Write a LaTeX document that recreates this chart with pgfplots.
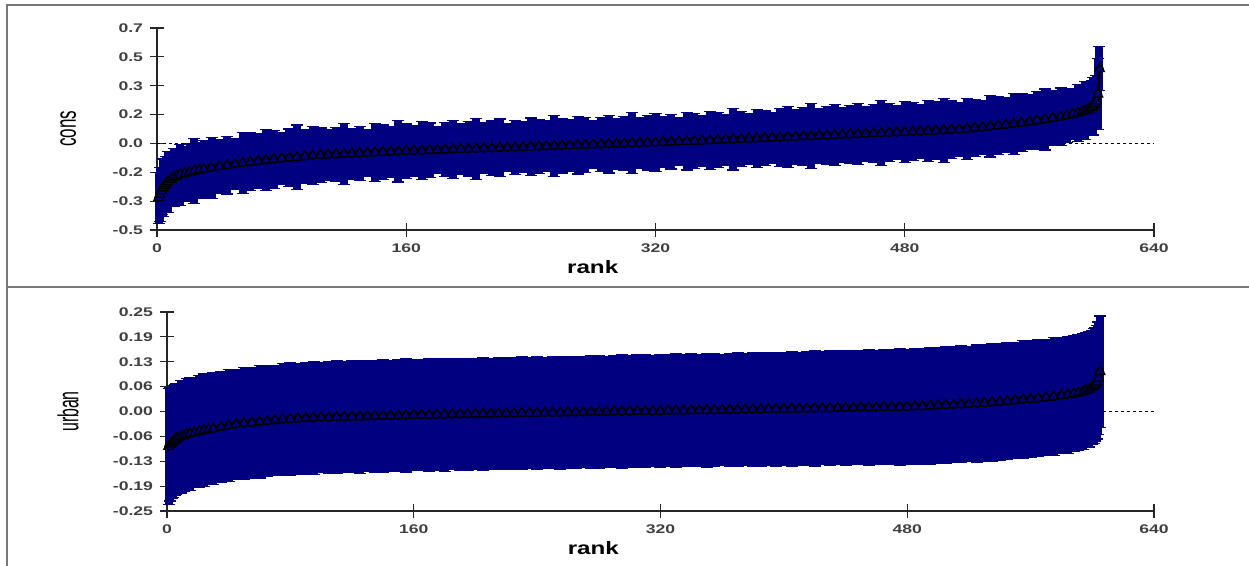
\documentclass[border=0pt]{standalone}
\usepackage{graphicx}
\usepackage{pgfplots}
\usepackage{pgfplotstable}
\pgfplotsset{compat=1.18}
\usepackage{fontspec}
\setmainfont{Liberation Sans}
\definecolor{navy}{RGB}{0,0,128}
\definecolor{framegray}{RGB}{120,120,120}
\newcommand\tl[1]{\scalebox{1.4}[1]{#1}}

\pgfplotstableread[row sep=\\]{
x y e\\
1 -0.320 0.15\\ 2 -0.300 0.16\\ 3 -0.280 0.14\\ 4 -0.262 0.17\\ 5 -0.247 0.15\\ 6 -0.236 0.16\\ 7 -0.226 0.18\\ 9 -0.212 0.16\\
11 -0.201 0.17\\ 13 -0.192 0.15\\ 15 -0.185 0.18\\ 18 -0.177 0.16\\ 21 -0.169 0.17\\ 24 -0.162 0.19\\ 27 -0.156 0.16\\ 30 -0.151 0.17\\
35 -0.143 0.18\\ 40 -0.135 0.16\\ 45 -0.128 0.17\\ 50 -0.121 0.15\\ 55 -0.115 0.18\\ 60 -0.109 0.17\\ 65 -0.104 0.16\\ 70 -0.099 0.18\\
75 -0.094 0.17\\ 80 -0.089 0.15\\ 85 -0.085 0.17\\ 90 -0.081 0.19\\ 95 -0.076 0.16\\ 100 -0.071 0.17\\ 105 -0.069 0.16\\ 110 -0.067 0.15\\
115 -0.065 0.16\\ 120 -0.062 0.18\\ 125 -0.060 0.15\\ 130 -0.058 0.16\\ 135 -0.056 0.14\\ 140 -0.053 0.17\\ 145 -0.051 0.16\\ 150 -0.049 0.15\\
155 -0.047 0.18\\ 160 -0.045 0.16\\ 165 -0.043 0.15\\ 170 -0.042 0.17\\ 175 -0.040 0.16\\ 180 -0.039 0.14\\ 185 -0.037 0.16\\ 190 -0.035 0.17\\
195 -0.034 0.15\\ 200 -0.032 0.16\\ 205 -0.031 0.18\\ 210 -0.029 0.15\\ 215 -0.028 0.16\\ 220 -0.026 0.17\\ 225 -0.025 0.14\\ 230 -0.023 0.16\\
235 -0.022 0.15\\ 240 -0.020 0.17\\ 245 -0.018 0.16\\ 250 -0.017 0.15\\ 255 -0.015 0.18\\ 260 -0.014 0.16\\ 265 -0.012 0.15\\ 270 -0.010 0.17\\
275 -0.009 0.16\\ 280 -0.007 0.14\\ 285 -0.006 0.16\\ 290 -0.004 0.17\\ 295 -0.002 0.15\\ 300 -0.001 0.16\\ 305 0.001 0.18\\ 310 0.002 0.15\\
315 0.004 0.16\\ 320 0.005 0.17\\ 325 0.007 0.15\\ 330 0.009 0.16\\ 335 0.011 0.14\\ 340 0.013 0.17\\ 345 0.014 0.16\\ 350 0.016 0.15\\
355 0.018 0.17\\ 360 0.020 0.16\\ 365 0.022 0.15\\ 370 0.024 0.18\\ 375 0.026 0.16\\ 380 0.028 0.15\\ 385 0.030 0.17\\ 390 0.031 0.16\\
395 0.033 0.15\\ 400 0.035 0.17\\ 405 0.037 0.18\\ 410 0.039 0.16\\ 415 0.041 0.17\\ 420 0.043 0.19\\ 425 0.045 0.16\\ 430 0.047 0.17\\
435 0.049 0.18\\ 440 0.051 0.16\\ 445 0.053 0.17\\ 450 0.055 0.18\\ 455 0.057 0.16\\ 460 0.059 0.17\\ 465 0.061 0.19\\ 470 0.063 0.17\\
475 0.065 0.16\\ 480 0.067 0.18\\ 485 0.069 0.17\\ 490 0.071 0.16\\ 495 0.073 0.18\\ 500 0.075 0.17\\ 505 0.077 0.19\\ 510 0.080 0.17\\
515 0.083 0.16\\ 520 0.087 0.18\\ 525 0.091 0.17\\ 530 0.095 0.16\\ 535 0.100 0.18\\ 540 0.105 0.17\\ 545 0.110 0.16\\ 550 0.116 0.18\\
555 0.121 0.17\\ 560 0.127 0.16\\ 565 0.134 0.17\\ 570 0.141 0.18\\ 575 0.149 0.16\\ 580 0.157 0.17\\ 584 0.164 0.16\\ 588 0.172 0.15\\
591 0.179 0.17\\ 594 0.187 0.16\\ 596 0.194 0.17\\ 598 0.202 0.15\\ 600 0.212 0.16\\ 601 0.220 0.17\\ 602 0.232 0.15\\ 603 0.250 0.15\\
604 0.290 0.21\\ 605 0.440 0.13\\
}\constab

\pgfplotstableread[row sep=\\]{
x y e\\
1 -0.088 0.145\\ 2 -0.083 0.142\\ 3 -0.079 0.140\\ 4 -0.075 0.141\\ 5 -0.072 0.139\\ 6 -0.069 0.140\\ 7 -0.067 0.138\\ 9 -0.064 0.141\\
11 -0.061 0.139\\ 13 -0.058 0.140\\ 15 -0.056 0.142\\ 18 -0.053 0.138\\ 21 -0.050 0.140\\ 24 -0.047 0.141\\ 27 -0.045 0.139\\ 30 -0.043 0.140\\
35 -0.039 0.139\\ 40 -0.035 0.141\\ 45 -0.032 0.138\\ 50 -0.030 0.140\\ 55 -0.028 0.139\\ 60 -0.026 0.141\\ 65 -0.024 0.140\\ 70 -0.022 0.138\\
75 -0.020 0.140\\ 80 -0.019 0.141\\ 85 -0.018 0.139\\ 90 -0.017 0.140\\ 95 -0.016 0.142\\ 100 -0.015 0.139\\ 105 -0.015 0.140\\ 110 -0.014 0.141\\
115 -0.014 0.139\\ 120 -0.013 0.140\\ 125 -0.013 0.142\\ 130 -0.012 0.139\\ 135 -0.012 0.140\\ 140 -0.011 0.141\\ 145 -0.011 0.139\\ 150 -0.010 0.140\\
155 -0.010 0.142\\ 160 -0.009 0.140\\ 165 -0.009 0.139\\ 170 -0.009 0.141\\ 175 -0.008 0.140\\ 180 -0.008 0.142\\ 185 -0.007 0.139\\ 190 -0.007 0.140\\
195 -0.007 0.141\\ 200 -0.006 0.140\\ 205 -0.006 0.142\\ 210 -0.006 0.139\\ 215 -0.005 0.140\\ 220 -0.005 0.141\\ 225 -0.005 0.140\\ 230 -0.004 0.142\\
235 -0.004 0.140\\ 240 -0.004 0.141\\ 245 -0.003 0.139\\ 250 -0.003 0.141\\ 255 -0.003 0.142\\ 260 -0.002 0.140\\ 265 -0.002 0.141\\ 270 -0.002 0.139\\
275 -0.001 0.141\\ 280 -0.001 0.142\\ 285 -0.001 0.140\\ 290 0.000 0.141\\ 295 0.000 0.143\\ 300 0.000 0.140\\ 305 0.001 0.141\\ 310 0.001 0.142\\
315 0.001 0.140\\ 320 0.001 0.142\\ 325 0.002 0.141\\ 330 0.002 0.143\\ 335 0.002 0.140\\ 340 0.003 0.142\\ 345 0.003 0.141\\ 350 0.003 0.143\\
355 0.003 0.142\\ 360 0.004 0.140\\ 365 0.004 0.142\\ 370 0.004 0.143\\ 375 0.005 0.141\\ 380 0.005 0.142\\ 385 0.005 0.144\\ 390 0.006 0.141\\
395 0.006 0.143\\ 400 0.006 0.142\\ 405 0.007 0.144\\ 410 0.007 0.142\\ 415 0.007 0.143\\ 420 0.008 0.145\\ 425 0.008 0.142\\ 430 0.008 0.144\\
435 0.009 0.143\\ 440 0.009 0.145\\ 445 0.009 0.143\\ 450 0.010 0.144\\ 455 0.010 0.146\\ 460 0.010 0.143\\ 465 0.011 0.145\\ 470 0.011 0.144\\
475 0.011 0.146\\ 480 0.012 0.144\\ 485 0.013 0.146\\ 490 0.013 0.145\\ 495 0.014 0.147\\ 500 0.015 0.145\\ 505 0.016 0.147\\ 510 0.017 0.146\\
515 0.018 0.147\\ 520 0.019 0.145\\ 525 0.020 0.147\\ 530 0.021 0.146\\ 535 0.023 0.148\\ 540 0.024 0.146\\ 545 0.026 0.147\\ 550 0.028 0.146\\
555 0.030 0.148\\ 560 0.031 0.146\\ 565 0.033 0.147\\ 570 0.035 0.146\\ 575 0.037 0.148\\ 580 0.040 0.146\\ 584 0.042 0.147\\ 588 0.045 0.146\\
591 0.047 0.145\\ 594 0.050 0.146\\ 596 0.053 0.144\\ 598 0.056 0.145\\ 600 0.061 0.143\\ 601 0.064 0.144\\ 602 0.068 0.142\\ 603 0.074 0.143\\
604 0.084 0.141\\ 605 0.100 0.140\\
}\urbantab

\pgfplotsset{
  caterpillar/.style={
    scale only axis, clip=false,
    xmin=0, xmax=640,
    axis lines*=left,
    axis line style={line width=0.6bp, black!85},
    tick style={line width=0.6bp, black!85},
    tick align=center, major tick length=7bp,
    xtick={0,160,320,480,640},
    xticklabels={\tl{0},\tl{160},\tl{320},\tl{480},\tl{640}},
    ticklabel style={font=\fontsize{6.3}{7}\selectfont\bfseries, text=black!75},
    xlabel={\scalebox{1.35}[1]{rank}},
    xlabel style={font=\fontsize{9}{10}\selectfont\bfseries, anchor=center},
    ylabel style={font=\fontsize{14.5}{15}\selectfont, anchor=center},
  },
  catbars/.style={
    only marks, mark=none,
    error bars/.cd, y dir=both, y explicit,
    error bar style={navy, line width=4bp},
    error mark options={rotate=90, navy, line width=0.6bp, mark size=3bp},
  },
  catmeans/.style={
    black, line width=1.4bp, mark=triangle*, mark size=2.8bp,
    mark options={fill=navy, draw=black, line width=0.6bp, solid},
  },
}

\begin{document}
\begin{tikzpicture}
\useasboundingbox (0,0) rectangle (624.5bp,283bp);
% frame
\draw[framegray, line width=0.7bp] (3.5bp,0) -- (3.5bp,280.5bp) -- (624.5bp,280.5bp);
\draw[framegray, line width=1bp] (3.5bp,139.5bp) -- (624.5bp,139.5bp);

\begin{axis}[caterpillar,
  at={(78.5bp,168bp)}, anchor=south west,
  width=498.5bp, height=101bp,
  ymin=-0.51, ymax=0.68,
  ytick={-0.51,-0.34,-0.17,0,0.17,0.34,0.51,0.68},
  yticklabels={\tl{-0.5},\tl{-0.3},\tl{-0.2},\tl{0.0},\tl{0.2},\tl{0.3},\tl{0.5},\tl{0.7}},
  ylabel={\scalebox{0.59}[1]{cons}},
  ylabel style={at={(axis description cs:-0.089,0.5)}},
  xlabel style={at={(axis description cs:0.437,-0.183)}},
]
\addplot[black, line width=0.5bp, dash pattern=on 1.5bp off 1.5bp] coordinates {(0,0) (640,0)};
\addplot[catbars] table[x=x, y=y, y error=e] {\constab};
\addplot[catmeans] table[x=x, y=y] {\constab};
\end{axis}

\begin{axis}[caterpillar,
  at={(83.5bp,27.5bp)}, anchor=south west,
  width=493.5bp, height=99.5bp,
  ymin=-0.25, ymax=0.25,
  ytick={-0.25,-0.1875,-0.125,-0.0625,0,0.0625,0.125,0.1875,0.25},
  yticklabels={\tl{-0.25},\tl{-0.19},\tl{-0.13},\tl{-0.06},\tl{0.00},\tl{0.06},\tl{0.13},\tl{0.19},\tl{0.25}},
  ylabel={\scalebox{0.55}[1]{urban}},
  ylabel style={at={(axis description cs:-0.1003,0.5)}},
  xlabel style={at={(axis description cs:0.432,-0.186)}},
]
\addplot[black, line width=0.5bp, dash pattern=on 1.5bp off 1.5bp] coordinates {(0,0) (640,0)};
\addplot[catbars] table[x=x, y=y, y error=e] {\urbantab};
\addplot[catmeans] table[x=x, y=y] {\urbantab};
\end{axis}
\end{tikzpicture}
\end{document}
